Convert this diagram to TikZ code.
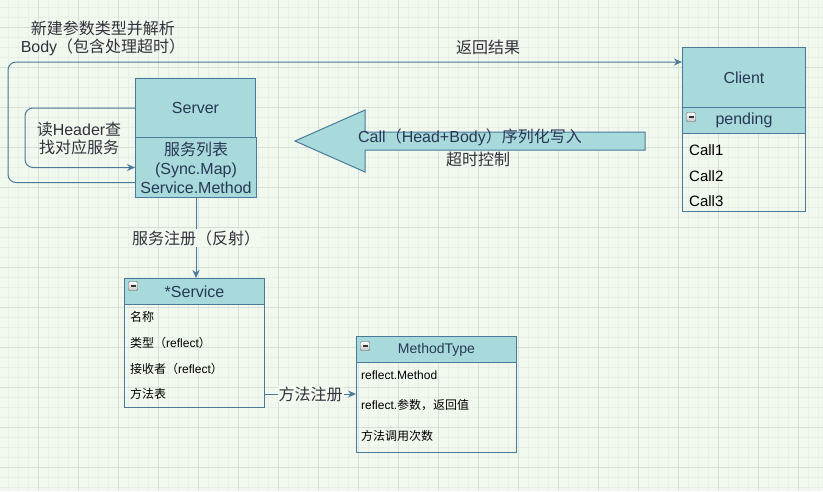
\documentclass[tikz,border=0pt]{standalone}
\usepackage{fontspec}
\setmainfont{Liberation Sans}
\newfontfamily\cjk{Noto Sans CJK SC}
\usepackage{tikz}
\usetikzlibrary{
    arrows.meta,
    positioning
}
\usepackage{xcolor}
\definecolor{bgcol}{RGB}{241,248,238}
\definecolor{gridminor}{RGB}{230,240,230}
\definecolor{gridmajor}{RGB}{214,224,216}
\definecolor{boxfill}{RGB}{168,217,219}
\definecolor{boxline}{RGB}{74,122,154}
\definecolor{headtext}{RGB}{40,56,86}
\definecolor{labeltext}{RGB}{50,50,60}
\newcommand{\zh}[1]{{\cjk #1}}

\begin{document}
\begin{tikzpicture}[
    x=1pt, y=-1pt,
    head/.style={
        rectangle, draw=boxline, fill=boxfill, line width=1pt,
        anchor=north west, inner sep=0pt, align=center,
        text=headtext, font=\fontsize{16}{19}\selectfont
    },
    body/.style={
        rectangle, draw=boxline, line width=1pt,
        anchor=north west, inner sep=0pt
    },
    row/.style={anchor=west, inner sep=0pt, font=\fontsize{12}{14}\selectfont},
    lbl/.style={inner sep=1pt, align=center, text=labeltext, font=\fontsize{16}{18}\selectfont},
    minus/.style={
        rectangle, rounded corners=1pt, draw=gray!70!black, top color=white, bottom color=gray!45,
        minimum size=9pt, inner sep=0pt,
        path picture={\draw[line width=1.3pt, black!80]
            ([xshift=-2.5pt]path picture bounding box.center) -- ([xshift=2.5pt]path picture bounding box.center);}
    },
    arrow/.style={-{Stealth[length=8pt, width=7pt]}, draw=boxline, line width=1pt}
]

% Background and grid
\fill[bgcol] (0,0) rectangle (823,491);
\useasboundingbox (0,0) rectangle (823,491);
\foreach \gx in {-2,8,...,818} \draw[gridminor, line width=0.8pt] (\gx,0) -- (\gx,491);
\foreach \gy in {7,17,...,487} \draw[gridminor, line width=0.8pt] (0,\gy) -- (823,\gy);
\foreach \gx in {-2,38,...,818} \draw[gridmajor, line width=0.8pt] (\gx,0) -- (\gx,491);
\foreach \gy in {27,67,...,487} \draw[gridmajor, line width=0.8pt] (0,\gy) -- (823,\gy);

% Server
\node[head, minimum width=120pt, minimum height=59pt] (srvhead) at (135,78) {Server};
\node[head, minimum width=121pt, minimum height=60pt] (srvbody) at (135,137)
    {\zh{服务列表}\\(Sync.Map)\\Service.Method};

% Client
\node[head, minimum width=123pt, minimum height=60pt] (clienthead) at (682,47) {Client};
\node[head, minimum width=123pt, minimum height=26pt] (pending) at (682,107) {\raisebox{-2pt}{pending}};
\node[body, minimum width=123pt, minimum height=78pt] (calls) at (682,133) {};
\node[minus] at (691,117) {};
\node[row, font=\fontsize{15}{18}\selectfont] (call1) at (689,150) {Call1};
\node[row, font=\fontsize{15}{18}\selectfont] (call2) at (689,176) {Call2};
\node[row, font=\fontsize{15}{18}\selectfont] (call3) at (689,201) {Call3};

% *Service
\node[head, minimum width=140pt, minimum height=26pt] (svchead) at (124,278) {*Service};
\node[body, minimum width=140pt, minimum height=103pt] (svcbody) at (124,304) {};
\node[minus] at (133,286) {};
\node[row] (svcname) at (130,317) {\zh{名称}};
\node[row] (svctype) at (130,343) {\zh{类型（}reflect\zh{）}};
\node[row] (svcrecv) at (130,369) {\zh{接收者（}reflect\zh{）}};
\node[row] (svcmeth) at (130,394) {\zh{方法表}};

% MethodType
\node[head, minimum width=160pt, minimum height=26pt, font=\fontsize{14}{17}\selectfont] (mthead) at (356,336) {MethodType};
\node[body, minimum width=160pt, minimum height=90pt] (mtbody) at (356,362) {};
\node[minus] at (365,346) {};
\node[row] (mtmethod) at (361,375) {reflect.Method};
\node[row] (mtargs) at (361,405) {reflect.\zh{参数，返回值}};
\node[row] (mtcount) at (361,436) {\zh{方法调用次数}};

% Call arrow (Client -> Server)
\draw[boxline, fill=boxfill, line width=1pt]
    (645,132) -- (365,132) -- (365,110) -- (295,141) -- (365,172) -- (365,150) -- (645,150) -- cycle;
\node[lbl, text=headtext] (calltext) at (470,137) {Call\zh{（}Head+Body\zh{）序列化写入}};
\node[lbl] (timeout) at (478,159) {\zh{超时控制}};

% Inner loop: read header
\coordinate (innerleft) at (25,0);
\draw[arrow, rounded corners=8pt] (srvhead.west) -- (srvhead.west -| innerleft) |- (srvbody.west);
\node[lbl] (readhdr) at (79,138) {\zh{读}Header\zh{查}\\\zh{找对应服务}};

% Outer loop: return result
\coordinate (outerleft) at (8,62);
\draw[arrow, rounded corners=8pt] ([yshift=-15pt]srvbody.west) -| (outerleft) -- (outerleft -| clienthead.west);
\node[lbl] (newargs) at (103,38) {\zh{新建参数类型并解析}\\Body\zh{（包含处理超时）}};
\node[lbl] (retres) at (488,47) {\zh{返回结果}};

% Registration
\draw[arrow] (srvbody.south) -- (srvbody.south |- svchead.north)
    node[pos=0.5, lbl, fill=bgcol] (regsvc) {\zh{服务注册（反射）}};
\draw[arrow] (svcbody.east |- svcmeth) -- (mtbody.west |- svcmeth)
    node[pos=0.5, lbl, fill=bgcol] (regmeth) {\zh{方法注册}};

\end{tikzpicture}
\end{document}
